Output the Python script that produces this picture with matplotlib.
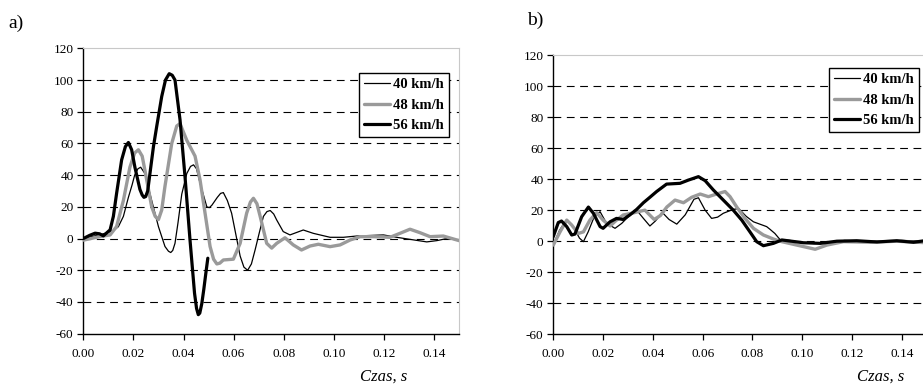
import matplotlib
matplotlib.use("Agg")
import matplotlib.pyplot as plt
from matplotlib.ticker import FixedLocator, FormatStrFormatter

plt.rcParams['font.family'] = ['Liberation Serif', 'DejaVu Serif']
plt.rcParams['axes.unicode_minus'] = False

series_labels = ["40 km/h", "48 km/h", "56 km/h"]
x_ticks = [0.00, 0.02, 0.04, 0.06, 0.08, 0.10, 0.12, 0.14]
y_ticks = [-60, -40, -20, 0, 20, 40, 60, 80, 100, 120]
x_label = "Czas, s"

# ---- panel a) ----
a40_t = [0, 0.004, 0.008, 0.012, 0.014, 0.016, 0.018, 0.0195, 0.0205, 0.0218, 0.0229, 0.0246, 0.0273,
         0.030, 0.0326, 0.034, 0.0349, 0.0357, 0.0366, 0.0378, 0.0393, 0.0413, 0.0428, 0.044, 0.0452,
         0.0466, 0.0493, 0.0503, 0.0513, 0.0535, 0.0548, 0.0559, 0.0575, 0.0592, 0.0626, 0.0641,
         0.0656, 0.0671, 0.0686, 0.0703, 0.0719, 0.0733, 0.0746, 0.076, 0.0772, 0.0798, 0.0825,
         0.0878, 0.0918, 0.0985, 0.1038, 0.1091, 0.1198, 0.1251, 0.1304, 0.1371, 0.1411, 0.1451, 0.150]
a40_v = [0, 1.5, 3, 5, 7.5, 14, 26, 34, 40, 44, 45, 41, 24,
         7.5, -5, -8, -8.8, -7.5, -3, 10, 28, 41, 45.5, 46.5, 44,
         35, 20, 19.5, 21, 26, 28.5, 29, 24, 16, -11, -18,
         -20, -16, -7, 4, 14, 17, 17.7, 15.5, 11.7, 4.4, 2.3,
         5.4, 3.3, 0.8, 0.8, 1.6, 2.3, 0.8, -0.5, -2.1, -1.3, 0, -1]

a48_t = [0, 0.0067, 0.0107, 0.0133, 0.016, 0.0186, 0.0205, 0.022, 0.0235, 0.0246, 0.0273, 0.0287,
         0.030, 0.0313, 0.0326, 0.0353, 0.0373, 0.0386, 0.0413, 0.0446, 0.0466, 0.0486, 0.0506,
         0.052, 0.0533, 0.0545, 0.0559, 0.0599, 0.0626, 0.0652, 0.0667, 0.0679, 0.0693, 0.0706,
         0.0732, 0.0752, 0.0772, 0.0805, 0.0838, 0.0871, 0.0905, 0.0938, 0.0985, 0.1025, 0.1065,
         0.1105, 0.1158, 0.1224, 0.1264, 0.1304, 0.1344, 0.1384, 0.1437, 0.150]
a48_v = [-1, 1.3, 2.3, 7.6, 24, 45, 54, 56, 52, 43, 20, 14,
         12, 18, 33, 60, 71, 72.5, 62, 52, 37, 16, -5,
         -13, -16, -15.5, -13.5, -13, -3, 16, 23, 25.4, 22, 14,
         -3, -6, -3, 0.5, -4, -7.2, -4.7, -3.6, -5.1, -4, -0.9,
         1.2, 1.2, 0.8, 3.3, 5.9, 3.7, 1.2, 1.6, -1.3]

a56_t = [0, 0.0025, 0.0047, 0.0065, 0.008, 0.0107, 0.012, 0.0133, 0.0153, 0.0168, 0.018, 0.0193,
         0.0206, 0.0226, 0.0235, 0.0242, 0.0249, 0.0257, 0.0266, 0.028, 0.0293, 0.0313, 0.0328,
         0.0343, 0.0355, 0.0366, 0.0386, 0.0406, 0.0426, 0.0444, 0.0452, 0.0459, 0.0465, 0.0473,
         0.0481, 0.0489, 0.0497]
a56_v = [0, 2, 3.4, 3, 1.7, 5.5, 14, 28.6, 49.6, 58, 60.6, 56,
         45, 31, 27.5, 26, 26.5, 30, 41, 58, 70.7, 89.6, 100,
         104, 103, 100, 75, 39, -1, -34.5, -44, -48, -47, -41,
         -32, -22, -12.4]

# ---- panel b) ----
b40_t = [0, 0.0025, 0.0047, 0.006, 0.0085, 0.0105, 0.0121, 0.014, 0.0165, 0.0188, 0.0214, 0.0248,
         0.0275, 0.0308, 0.0335, 0.0362, 0.0388, 0.041, 0.0438, 0.0465, 0.0496, 0.053, 0.0565,
         0.0583, 0.061, 0.0636, 0.066, 0.0683, 0.0723, 0.0745, 0.0775, 0.0804, 0.0857, 0.0871,
         0.089, 0.0911, 0.095, 0.1, 0.105, 0.11, 0.117, 0.125, 0.135, 0.14, 0.15]
b40_v = [-2.5, 7, 12.5, 13, 8, 2, -0.3, 6, 16, 19, 11.5, 8.3,
         11.5, 16.9, 20, 14.7, 9.8, 13, 18.5, 14, 11, 17, 27,
         28, 20, 14.7, 15.5, 18, 20.5, 21, 16, 12.5, 9.4, 7.6,
         5, 1, 0.5, -1, -1.5, -1, 0.5, 0, 0, 0.5, 0]

b48_t = [0, 0.0027, 0.0054, 0.0074, 0.010, 0.0121, 0.0147, 0.0174, 0.020, 0.0228, 0.0254, 0.0281,
         0.0315, 0.0341, 0.0368, 0.0405, 0.043, 0.0456, 0.0489, 0.0523, 0.0556, 0.059, 0.0623,
         0.0656, 0.069, 0.071, 0.0737, 0.077, 0.0804, 0.0844, 0.0884, 0.0918, 0.0978, 0.1052,
         0.1099, 0.1166, 0.1273, 0.138, 0.15]
b48_v = [-2.5, 6, 13.6, 10.4, 5, 6, 13.6, 18.4, 13.6, 9.8, 13.6, 16.9,
         18, 19, 20, 14, 16.5, 22, 26.5, 24.8, 28.3, 30.4, 28.7,
         30.4, 32, 28.7, 22, 14.7, 8.3, 4, 1.4, -0.3, -2.5, -5.2,
         -2.5, -0.3, -0.7, 0, -1]

b56_t = [0, 0.002, 0.0033, 0.0054, 0.0074, 0.0087, 0.0114, 0.0141, 0.0161, 0.0188, 0.020, 0.0228,
         0.0254, 0.0281, 0.0308, 0.0335, 0.0362, 0.0388, 0.0415, 0.0455, 0.0509, 0.0543, 0.0583,
         0.061, 0.0643, 0.0683, 0.0723, 0.0757, 0.079, 0.0817, 0.0844, 0.0884, 0.0918, 0.1005,
         0.1072, 0.1139, 0.1219, 0.130, 0.138, 0.1447, 0.15]
b56_v = [3, 12, 13, 9.4, 4, 4.6, 15.8, 22, 18, 9.4, 8.3, 12.5,
         14.7, 14, 17, 20.5, 24.8, 28.3, 32, 36.8, 37.3, 39.4, 41.6,
         39, 33, 26.5, 20, 13.6, 6, -0.3, -2.9, -1.4, 0.8, -1,
         -1.4, 0, 0.3, -0.5, 0.3, -0.7, 0.5]

GREY = "#9a9a9a"
styles = [dict(color="black", lw=0.9), dict(color=GREY, lw=2.4), dict(color="black", lw=2.3)]

W, H = 923, 384
fig = plt.figure(figsize=(W / 100, H / 100), dpi=100)

def make_axes(left, top, right, bottom):
    return fig.add_axes([left / W, 1 - bottom / H, (right - left) / W, (bottom - top) / H])

axa = make_axes(83.3, 48.3, 459.1, 333.7)
axb = make_axes(553.3, 55.0, 926.7, 334.3)

panels = [
    (axa, [(a40_t, a40_v), (a48_t, a48_v), (a56_t, a56_v)], (359, 73)),
    (axb, [(b40_t, b40_v), (b48_t, b48_v), (b56_t, b56_v)], (829, 68)),
]

for ax, data, (lx, ly) in panels:
    ax.set_xlim(0, 0.15)
    ax.set_ylim(-60, 120)
    for y in y_ticks[1:-1]:
        ax.axhline(y, color="black", lw=0.8, ls=(0, (7, 5)), zorder=1)
    for (t, v), lab, st in zip(data, series_labels, styles):
        ax.plot(t, v, label=lab, solid_joinstyle="round", solid_capstyle="round", zorder=3, **st)
    ax.xaxis.set_major_locator(FixedLocator(x_ticks))
    ax.yaxis.set_major_locator(FixedLocator(y_ticks))
    ax.xaxis.set_major_formatter(FormatStrFormatter("%.2f"))
    ax.yaxis.set_major_formatter(FormatStrFormatter("%d"))
    ax.tick_params(direction="out", length=4, width=0.9, labelsize=9.5, pad=3, colors="black")
    ax.tick_params(axis="x", pad=6)
    ax.spines["left"].set_linewidth(1.0)
    ax.spines["bottom"].set_linewidth(1.0)
    ax.spines["top"].set_color("#c8c8c8")
    ax.spines["right"].set_color("#c8c8c8")
    ax.spines["top"].set_linewidth(0.8)
    ax.spines["right"].set_linewidth(0.8)
    leg = ax.legend(loc="upper left", bbox_to_anchor=(lx / W, 1 - ly / H),
                    bbox_transform=fig.transFigure, frameon=True, fancybox=False,
                    edgecolor="black", framealpha=1, borderaxespad=0, borderpad=0.35,
                    handlelength=1.75, handletextpad=0.2, labelspacing=0.5,
                    prop=dict(family="Liberation Serif", weight="bold", size=10.5))
    leg.get_frame().set_linewidth(1.0)
    leg.set_zorder(5)

fig.text(384 / W, 1 - 377 / H, x_label, ha="center", va="center", fontsize=12, style="italic")
fig.text(881 / W, 1 - 377 / H, x_label, ha="center", va="center", fontsize=12, style="italic")
fig.text(8 / W, 1 - 23 / H, "a)", ha="left", va="center", fontsize=14)
fig.text(527 / W, 1 - 20 / H, "b)", ha="left", va="center", fontsize=14)

fig.savefig("out.png", dpi=100)
